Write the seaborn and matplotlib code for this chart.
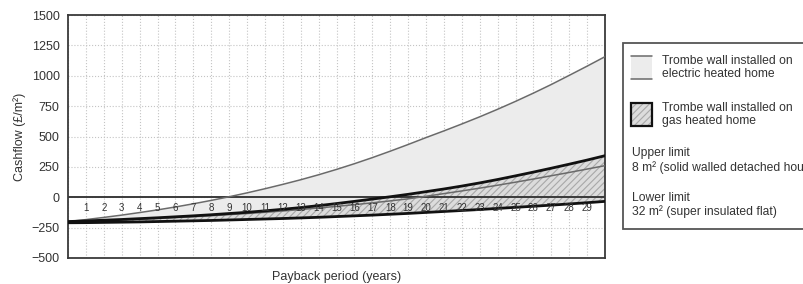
import matplotlib
matplotlib.use("Agg")
import matplotlib.pyplot as plt
import seaborn as sns
from matplotlib.patches import Rectangle

sns.set_style("white")
plt.rcParams['font.family'] = ['Liberation Sans', 'DejaVu Sans']
plt.rcParams['hatch.linewidth'] = 0.8

# Data (cashflow in GBP per m2, by year of payback period)
years = list(range(0, 31))
elec_upper = [-200, -184, -166, -147, -126, -104, -80, -54, -26, 4, 36, 70, 106, 144, 185,
              229, 276, 326, 379, 434, 491, 546, 603, 662, 724, 789, 857, 928, 1003, 1079, 1157]
elec_lower = [-200, -196, -191, -186, -180, -174, -167, -160, -152, -143, -134, -124, -113, -101, -88,
              -75, -61, -46, -30, -13, 8, 30, 52, 75, 99, 124, 150, 177, 204, 232, 260]
gas_upper = [-200, -195, -189, -183, -176, -169, -161, -153, -144, -134, -124, -112, -99, -85, -69,
             -52, -34, -15, 4, 24, 46, 68, 92, 118, 146, 176, 207, 239, 272, 306, 342]
gas_lower = [-210, -209, -207, -205, -203, -200, -197, -194, -191, -187, -183, -179, -175, -170, -165,
             -159, -153, -147, -140, -133, -125, -117, -109, -101, -92, -83, -74, -65, -55, -45, -34]
year_labels = [str(y) for y in years[1:30]]
y_ticks = [-500, -250, 0, 250, 500, 750, 1000, 1250, 1500]

TXT = '#333333'
ELEC_FILL = '#ececec'
GAS_FILL = '#dcdcdc'
HATCH_COL = '#a8a8a8'

fig = plt.figure(figsize=(8.04, 2.84), dpi=100)
ax = fig.add_axes([68 / 804, 1 - 258 / 284, (605 - 68) / 804, (258 - 15) / 284])

# shaded bands
ax.fill_between(years, elec_lower, elec_upper, facecolor=ELEC_FILL, linewidth=0, zorder=1)
ax.fill_between(years, gas_lower, gas_upper, facecolor=GAS_FILL, edgecolor=HATCH_COL,
                hatch='/////', linewidth=0, zorder=2)

# limit lines
sns.lineplot(x=years, y=elec_upper, ax=ax, color='#6a6a6a', linewidth=1.1, zorder=4)
sns.lineplot(x=years, y=elec_lower, ax=ax, color='#6a6a6a', linewidth=1.1, zorder=4)
sns.lineplot(x=years, y=gas_upper, ax=ax, color='#111111', linewidth=2.0, zorder=5)
sns.lineplot(x=years, y=gas_lower, ax=ax, color='#111111', linewidth=2.0, zorder=5)
ax.axhline(0, color='#3a3a3a', linewidth=1.4, zorder=3)

# year labels sit inside the plot, just under the zero line
for yr, lab in zip(years[1:30], year_labels):
    ax.text(yr, -85, lab, ha='center', va='center', fontsize=7, color=TXT, zorder=6)

ax.set_xlim(0, 30)
ax.set_ylim(-500, 1500)
ax.set_xticks(years)
ax.set_xticklabels([])
ax.set_yticks(y_ticks)
ax.tick_params(axis='x', length=0)
ax.tick_params(axis='y', length=4, width=1, color=TXT, labelsize=9, labelcolor=TXT, pad=2)
ax.grid(True, linestyle=':', color='#c4c4c4', linewidth=0.8, zorder=0)
ax.set_axisbelow(True)
for sp in ax.spines.values():
    sp.set_color('#3a3a3a')
    sp.set_linewidth(1.3)
ax.set_xlabel('Payback period (years)', fontsize=9, color=TXT, labelpad=6)
ax.set_ylabel('Cashflow (£/m²)', fontsize=9, color=TXT, labelpad=4)

# legend panel (drawn in pixel-like coordinates)
lax = fig.add_axes([623 / 804, 1 - 229 / 284, (840 - 623) / 804, (229 - 43) / 284])
lax.set_xlim(623, 840)
lax.set_ylim(229, 43)
lax.axis('off')
lax.add_patch(Rectangle((623, 43), 217, 186, facecolor='white', edgecolor='#555555',
                        linewidth=1.3, clip_on=False))
lax.add_patch(Rectangle((631, 56), 21, 23, facecolor=ELEC_FILL, edgecolor='none'))
lax.plot([631, 652], [56, 56], color='#6a6a6a', linewidth=1.1)
lax.plot([631, 652], [79, 79], color='#6a6a6a', linewidth=1.1)
lax.add_patch(Rectangle((631, 103), 21, 23, facecolor=GAS_FILL, edgecolor=HATCH_COL,
                        hatch='/////', linewidth=0))
lax.add_patch(Rectangle((631, 103), 21, 23, facecolor='none', edgecolor='#111111', linewidth=1.6))

lfs = 8.7
lax.text(662, 61, 'Trombe wall installed on', fontsize=lfs, color=TXT, va='center')
lax.text(662, 74, 'electric heated home', fontsize=lfs, color=TXT, va='center')
lax.text(662, 108, 'Trombe wall installed on', fontsize=lfs, color=TXT, va='center')
lax.text(662, 121, 'gas heated home', fontsize=lfs, color=TXT, va='center')
lax.text(632, 153, 'Upper limit', fontsize=lfs, color=TXT, va='center')
lax.text(632, 168, '8 m² (solid walled detached house)', fontsize=lfs, color=TXT, va='center')
lax.text(632, 198, 'Lower limit', fontsize=lfs, color=TXT, va='center')
lax.text(632, 212, '32 m² (super insulated flat)', fontsize=lfs, color=TXT, va='center')

fig.savefig('out.png', dpi=100)
